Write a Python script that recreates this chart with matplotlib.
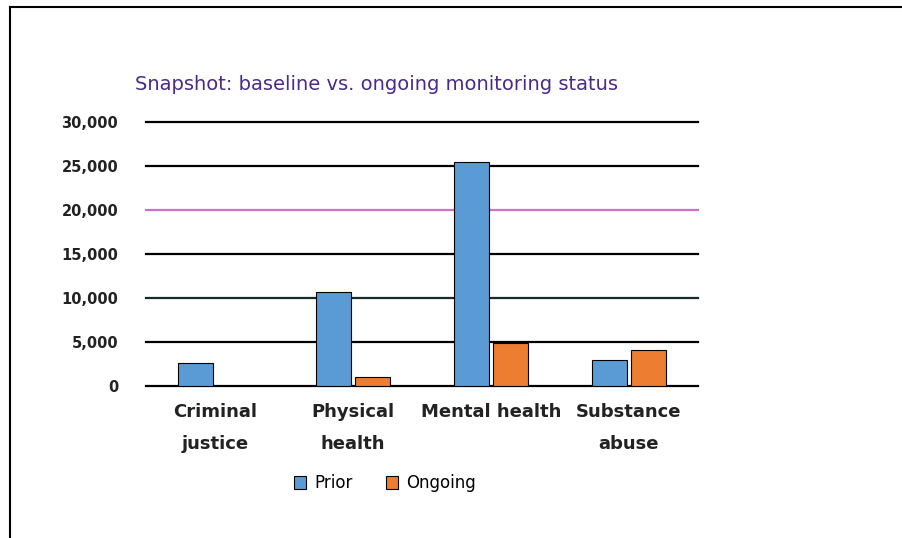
import numpy as np
import matplotlib.pyplot as plt
from matplotlib.lines import Line2D

# data
categories = ['Criminal\njustice', 'Physical\nhealth', 'Mental health', 'Substance\nabuse']
prior = [2600, 10700, 25400, 2900]
ongoing = [0, 1000, 4900, 4100]
yticks = [0, 5000, 10000, 15000, 20000, 25000, 30000]
ytick_labels = ['0', '5,000', '10,000', '15,000', '20,000', '25,000', '30,000']

fig = plt.figure(figsize=(9.03, 5.38), dpi=100)
ax = fig.add_axes([146/903, 1-386/538, (698-146)/903, (386-122)/538])

# frame round the figure (top and left only)
fig.add_artist(Line2D([10/903, 1], [1-7/538, 1-7/538], color='black', lw=1.5))
fig.add_artist(Line2D([10/903, 10/903], [0, 1-7/538], color='black', lw=1.5))

x = np.arange(len(categories))
w = 0.25
ax.bar(x - w/2 - 0.015, prior, w, color='#5b9bd5', edgecolor='black', linewidth=0.8, label='Prior', zorder=3)
ax.bar(x + w/2 + 0.015, ongoing, w, color='#ed7d31', edgecolor='black', linewidth=0.8, label='Ongoing', zorder=3)

grid_colors = ['black', 'black', '#1a2a2a', 'black', '#d070c0', 'black', 'black']
for yv, c in zip(yticks, grid_colors):
    ax.axhline(yv, color=c, lw=1.6, zorder=1, clip_on=False)

ax.set_xlim(-0.5, 3.5)
ax.set_ylim(0, 30000)
ax.set_yticks(yticks)
ax.set_yticklabels(ytick_labels, fontsize=10.5, color='#222222', fontweight='bold')
ax.set_xticks(x)
ax.set_xticklabels(categories, fontsize=13, color='#222222', fontweight='bold', linespacing=2.0)
ax.tick_params(axis='y', length=0, pad=20)
ax.tick_params(axis='x', length=0, pad=12)
for s in ax.spines.values():
    s.set_visible(False)

fig.text(135/903, 1-85/538, 'Snapshot: baseline vs. ongoing monitoring status',
         fontsize=14, color='#4b2a8a', va='center', ha='left')

ax.legend(loc='center', bbox_to_anchor=(385/903, 1-483/538), bbox_transform=fig.transFigure,
          ncol=2, frameon=False, fontsize=12, handlelength=0.7, handleheight=0.8,
          columnspacing=2.0, handletextpad=0.5, borderaxespad=0)

fig.savefig('out.png', dpi=100)
